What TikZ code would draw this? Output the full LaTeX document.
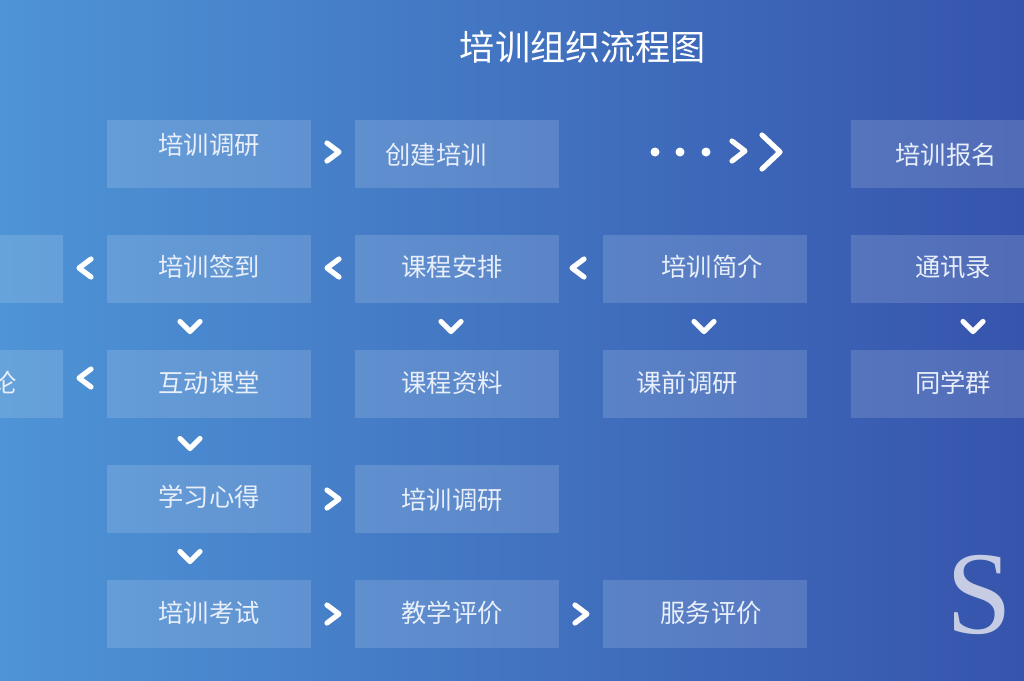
\documentclass[tikz,border=0pt]{standalone}
\usepackage{fontspec}
\newfontfamily\cjk{Noto Sans CJK SC}
\newfontfamily\serifS{Liberation Serif}
\usetikzlibrary{calc}
\definecolor{bgleft}{RGB}{78,148,214}
\definecolor{bgright}{RGB}{54,84,172}
\definecolor{lblcol}{RGB}{232,239,250}
\definecolor{scol}{RGB}{197,204,227}
\tikzset{box/.style={fill=white, fill opacity=0.14, minimum width=5.1cm, minimum height=1.7cm, inner sep=0pt},
  lbl/.style={font=\cjk\fontsize{18}{20}\selectfont, text=lblcol, inner sep=0pt},
  chev/.style={white, line width=0.13cm, line cap=round, line join=round},
  rchev/.pic={\draw[chev] (-6,-9) -- (6,0) -- (-6,9);},
  lchev/.pic={\draw[chev] (6,-9) -- (-6,0) -- (6,9);},
  dchev/.pic={\draw[chev] (-10,-5) -- (0,5) -- (10,-5);}}

\begin{document}
\begin{tikzpicture}[x=0.025cm, y=-0.025cm]
  \useasboundingbox (0,0) rectangle (1024,680);
  \clip (0,0) rectangle (1024,680);
  \shade[left color=bgleft, right color=bgright] (0,0) rectangle (1024,680);
  \node[font=\cjk\fontsize{25}{28}\selectfont, white, inner sep=0pt] (title) at (583,47) {培训组织流程图};
  % boxes: name/x/y/text shift/text
  \foreach \name/\x/\y/\dx/\dy/\txt in {zuo/-39/269/0/0/{}, taolun/-39/384/30/-1/讨论,
    diaoyan/209/154/0/-9/培训调研, chuangjian/457/154/-21/1/创建培训, baoming/953/154/-7/1/培训报名,
    qiandao/209/269/0/-2/培训签到, anpai/457/269/-5/-2/课程安排, jianjie/705/269/7/-2/培训简介, tongxun/953/269/0/-2/通讯录,
    hudong/209/384/0/-1/互动课堂, ziliao/457/384/-5/-1/课程资料, keqian/705/384/-18/-1/课前调研, qun/953/384/0/-1/同学群,
    xinde/209/499/0/-2/学习心得, diaoyanb/457/499/-5/1/培训调研,
    kaoshi/209/614/0/-1/培训考试, jiaoxue/457/614/-5/-1/教学评价, fuwu/705/614/6/-1/服务评价}
  {
    \node[box] (\name) at (\x,\y) {};
    \node[lbl] (\name-t) at ($(\name)+(\dx,\dy)$) {\txt};
  }
  % chevrons between boxes
  \pic at ($(diaoyan.east)!0.5!(chuangjian.west)+(0,-2)$) {rchev};
  \pic at ($(xinde.east)!0.5!(diaoyanb.west)$) {rchev};
  \pic at ($(kaoshi.east)!0.5!(jiaoxue.west)$) {rchev};
  \pic at ($(jiaoxue.east)!0.5!(fuwu.west)$) {rchev};
  \pic at ($(zuo.east)!0.5!(qiandao.west)+(0,-1)$) {lchev};
  \pic at ($(qiandao.east)!0.5!(anpai.west)+(0,-1)$) {lchev};
  \pic at ($(anpai.east)!0.5!(jianjie.west)+(-3,-1)$) {lchev};
  \pic at ($(taolun.east)!0.5!(hudong.west)+(0,-6)$) {lchev};
  \pic at ($(qiandao.south)!0.5!(hudong.north)+(-19,0)$) {dchev};
  \pic at ($(anpai.south)!0.5!(ziliao.north)+(-6,0)$) {dchev};
  \pic at ($(jianjie.south)!0.5!(keqian.north)+(-1,0)$) {dchev};
  \pic at ($(tongxun.south)!0.5!(qun.north)+(20,0)$) {dchev};
  \pic at ($(hudong.south)!0.5!(xinde.north)+(-19,2)$) {dchev};
  \pic at ($(xinde.south)!0.5!(kaoshi.north)+(-19,0)$) {dchev};
  % dots and double chevron
  \coordinate (mid) at ($(chuangjian.east)!0.5!(baoming.west)$);
  \foreach \dx in {-50,-25,1} \fill[white] ($(mid)+(\dx,-2)$) circle[radius=4.5];
  \draw[chev] ($(mid)+(27,-13)$) -- ++(13,10) -- ++(-13,10);
  \draw[chev] ($(mid)+(57,-19)$) -- ++(18,17) -- ++(-18,17);
  \node[font=\serifS\fontsize{84}{84}\selectfont, text=scol, anchor=base, inner sep=0pt] (sletter) at (979,633) {S};
\end{tikzpicture}
\end{document}
